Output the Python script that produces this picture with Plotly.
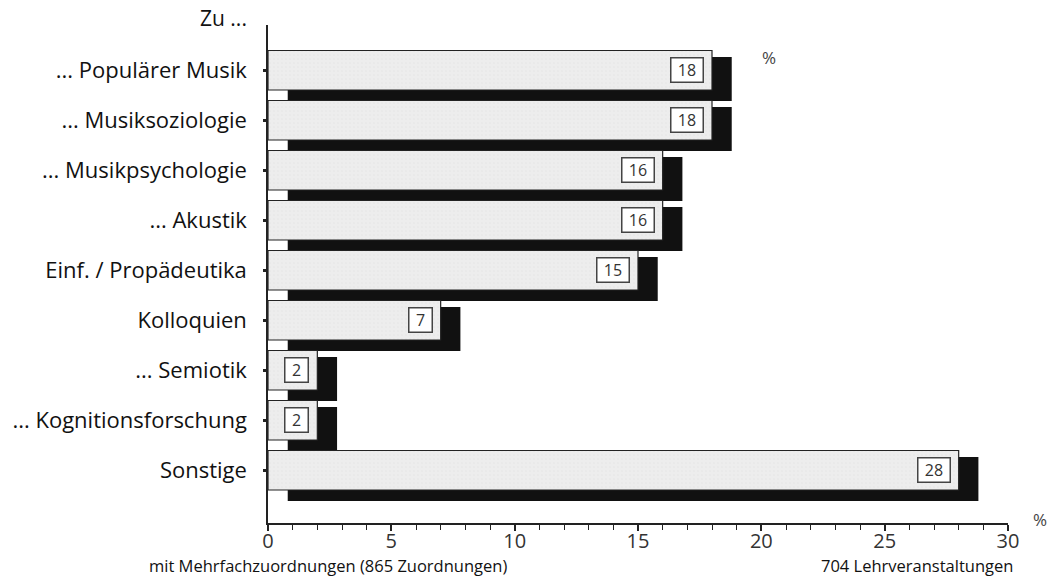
import plotly.graph_objects as go

# Kategorien und Anteile in Prozent
categories = [
    "... Populärer Musik",
    "... Musiksoziologie",
    "... Musikpsychologie",
    "... Akustik",
    "Einf. / Propädeutika",
    "Kolloquien",
    "... Semiotik",
    "... Kognitionsforschung",
    "Sonstige",
]
percent = [18, 18, 16, 16, 15, 7, 2, 2, 28]
x_ticks = [0, 5, 10, 15, 20, 25, 30]

rows = list(range(len(categories)))
FONT = "Open Sans"
SHADOW_DX = 0.8  # horizontaler Versatz des Schattens

fig = go.Figure()

# Schattenbalken (schwarz, nach rechts unten versetzt)
fig.add_trace(go.Bar(
    x=percent, y=rows, base=SHADOW_DX, orientation="h",
    width=0.88, offset=-0.26,
    marker=dict(color="#111111", line=dict(width=0)),
    hoverinfo="skip", showlegend=False,
))

# Hauptbalken (hellgrau, schwarz umrandet)
fig.add_trace(go.Bar(
    x=percent, y=rows, orientation="h",
    width=0.79, offset=-0.39,
    marker=dict(color="#eeeeee", line=dict(color="#222222", width=1.2),
                pattern=dict(shape=".", fgcolor="#d8d8d8", bgcolor="#ededed",
                             size=4, solidity=0.12)),
    hoverinfo="skip", showlegend=False,
))

# Wertangaben in Kästchen am Balkenende
for r, v in zip(rows, percent):
    fig.add_annotation(
        x=v, y=r, xref="x", yref="y", text=str(v), showarrow=False,
        xanchor="right", yanchor="middle", xshift=-8,
        width=11 + 9 * len(str(v)), height=21,
        font=dict(family=FONT, size=16, color="#333333"),
        bgcolor="white", bordercolor="#444444", borderwidth=1.5, borderpad=1,
    )

fig.add_annotation(x=0, y=1.0, xref="paper", yref="paper", text="Zu ...",
                   showarrow=False, xanchor="right", yanchor="middle",
                   xshift=-19, yshift=7,
                   font=dict(family=FONT, size=21, color="#111111"))
fig.add_annotation(x=20.3, y=-0.25, xref="x", yref="y", text="%",
                   showarrow=False, xanchor="center", yanchor="middle",
                   font=dict(family=FONT, size=17, color="#444444"))
fig.add_annotation(x=1.043, y=0, xref="paper", yref="paper", text="%",
                   showarrow=False, xanchor="center", yanchor="middle",
                   yshift=4,
                   font=dict(family=FONT, size=17, color="#444444"))
fig.add_annotation(x=-0.1635, y=-0.086, xref="paper", yref="paper",
                   text="mit Mehrfachzuordnungen (865 Zuordnungen)",
                   showarrow=False, xanchor="left", yanchor="middle",
                   font=dict(family=FONT, size=16.5, color="#111111"))
fig.add_annotation(x=1.0095, y=-0.086, xref="paper", yref="paper",
                   text="704 Lehrveranstaltungen",
                   showarrow=False, xanchor="right", yanchor="middle",
                   font=dict(family=FONT, size=16.5, color="#111111"))

fig.update_layout(
    width=1052, height=585,
    margin=dict(l=268, r=44, t=25, b=62),
    paper_bgcolor="white", plot_bgcolor="white",
    barmode="overlay",
    font=dict(family=FONT, color="#111111"),
    xaxis=dict(
        range=[0, 30], tickvals=x_ticks, ticktext=[str(t) for t in x_ticks],
        showgrid=False, zeroline=False,
        showline=True, linecolor="#222222", linewidth=1.5,
        ticks="outside", ticklen=6, tickwidth=2, tickcolor="#222222",
        minor=dict(dtick=1, ticks="outside", ticklen=5, tickwidth=1,
                   tickcolor="#222222"),
        ticklabelstandoff=-7,
        tickfont=dict(family=FONT, size=20, color="#333333"),
    ),
    yaxis=dict(
        range=[9.06, -0.9], tickvals=rows, ticktext=categories,
        showgrid=False, zeroline=False,
        showline=True, linecolor="#222222", linewidth=1.5,
        ticks="outside", ticklen=3, tickwidth=3, tickcolor="#222222",
        ticklabelstandoff=12,
        tickfont=dict(family=FONT, size=22, color="#111111"),
    ),
)

fig.write_html("out.html")
